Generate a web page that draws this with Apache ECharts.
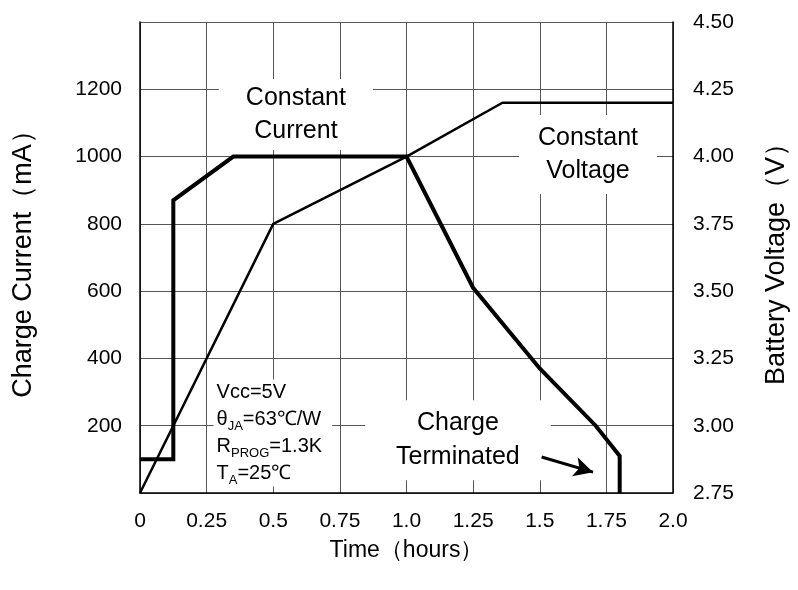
<!DOCTYPE html>
<html><head><meta charset="utf-8">
<script src="https://cdn.jsdelivr.net/npm/echarts@6/dist/echarts.min.js"></script>
<style>html,body{margin:0;padding:0;background:#fff;overflow:hidden}#c{width:798px;height:590px}</style>
</head><body><div id="c"></div>
<script>
var xTickLabels = ['0','0.25','0.5','0.75','1.0','1.25','1.5','1.75','2.0'];
var currentTime = [0, 0.125, 0.125, 0.35, 1.0, 1.25, 1.5, 1.71, 1.8, 1.8];
var currentMA   = [100, 100, 870, 1000, 1000, 610, 370, 200, 110, 0];
var voltageTime = [0, 0.5, 1.0, 1.36, 2.0];
var voltageV    = [2.75, 3.75, 4.0, 4.2, 4.2];
var arrowFrom = [1.507, 107];
var arrowTo   = [1.70, 62];

var FONT = '"Liberation Sans", Arial, sans-serif';
var chart = echarts.init(document.getElementById('c'));
function pairs(xs, ys){ return xs.map(function(x,i){ return [x, ys[i]]; }); }
var gridColor = '#555';
chart.setOption({
  animation: false,
  backgroundColor: '#fff',
  textStyle: {fontFamily: FONT, color: '#000'},
  grid: {left: 140, right: 112, top: 22, bottom: 97},
  xAxis: {
    type: 'value', min: 0, max: 2, interval: 0.25,
    name: 'Time（hours）', nameLocation: 'middle', nameGap: 46,
    nameTextStyle: {fontSize: 23, color: '#000', fontFamily: FONT},
    axisLine: {lineStyle: {color: '#000', width: 1.5}},
    axisTick: {show: false},
    axisLabel: {fontSize: 21, color: '#000', margin: 18, fontFamily: FONT,
      formatter: function(v){ return xTickLabels[Math.round(v/0.25)]; }},
    splitLine: {show: true, lineStyle: {color: gridColor, width: 1}}
  },
  yAxis: [{
    type: 'value', min: 0, max: 1400, interval: 200,
    name: 'Charge Current（mA）', nameLocation: 'middle', nameGap: 103,
    nameTextStyle: {fontSize: 27, color: '#000', fontFamily: FONT},
    axisLine: {show: true, lineStyle: {color: '#000', width: 1.5}},
    axisTick: {show: false},
    axisLabel: {fontSize: 21, color: '#000', margin: 18, fontFamily: FONT,
      formatter: function(v){ return (v === 0 || v === 1400) ? '' : String(v); }},
    splitLine: {show: true, lineStyle: {color: gridColor, width: 1}}
  },{
    type: 'value', min: 2.75, max: 4.5, interval: 0.25, position: 'right',
    name: 'Battery Voltage（V）', nameLocation: 'middle', nameGap: 90,
    nameRotate: 90,
    nameTextStyle: {fontSize: 27, color: '#000', fontFamily: FONT},
    axisLine: {show: true, lineStyle: {color: '#000', width: 1.5}},
    axisTick: {show: false},
    axisLabel: {fontSize: 21, color: '#000', margin: 20, fontFamily: FONT,
      formatter: function(v){ return v.toFixed(2); }},
    splitLine: {show: false}
  }],
  series: [{
    type: 'line', yAxisIndex: 0, data: pairs(currentTime, currentMA),
    showSymbol: false, symbol: 'none', z: 5,
    lineStyle: {color: '#000', width: 4, join: 'miter'},
    markLine: {
      silent: true, symbol: ['none', 'arrow'], symbolSize: [15, 19],
      lineStyle: {color: '#000', width: 3, type: 'solid'},
      label: {show: false},
      data: [[{coord: arrowFrom}, {coord: arrowTo}]]
    }
  },{
    type: 'line', yAxisIndex: 1, data: pairs(voltageTime, voltageV),
    showSymbol: false, symbol: 'none', z: 4,
    lineStyle: {color: '#000', width: 2.5}
  }]
});

function px(x, y){ return chart.convertToPixel({xAxisIndex: 0, yAxisIndex: 0}, [x, y]); }
var pCC = px(0.585, 1125);
var pCV = px(1.681, 1006);
var pInfo = px(0.276, 337);
var pCT = px(1.193, 157);
var textBase = {fill: '#000', fontFamily: FONT, backgroundColor: '#fff'};
chart.setOption({
  graphic: [
    {type: 'text', x: pCC[0], y: pCC[1], z: 3,
      style: Object.assign({}, textBase, {text: 'Constant\nCurrent', fontSize: 25, lineHeight: 33, align: 'center', verticalAlign: 'middle', padding: [3, 27, 2, 27]})},
    {type: 'text', x: pCV[0], y: pCV[1], z: 3,
      style: Object.assign({}, textBase, {text: 'Constant\nVoltage', fontSize: 25, lineHeight: 33, align: 'center', verticalAlign: 'middle', padding: [3, 19, 10, 19]})},
    {type: 'text', x: pCT[0], y: pCT[1], z: 3,
      style: Object.assign({}, textBase, {text: 'Charge\nTerminated', fontSize: 25, lineHeight: 34, align: 'center', verticalAlign: 'middle', padding: [3, 31, 9, 31]})},
    {type: 'text', x: pInfo[0], y: pInfo[1], z: 3,
      style: Object.assign({}, textBase, {
        text: 'Vcc=5V\nθ{s|JA}=63℃/W\nR{s|PROG}=1.3K\nT{s|A}=25℃',
        fontSize: 20, lineHeight: 26.7, align: 'left', verticalAlign: 'top', padding: [0, 10, 0, 3],
        rich: {s: {fontSize: 13, fontFamily: FONT, fill: '#000', verticalAlign: 'bottom', lineHeight: 22}}
      })}
  ]
});
</script></body></html>
